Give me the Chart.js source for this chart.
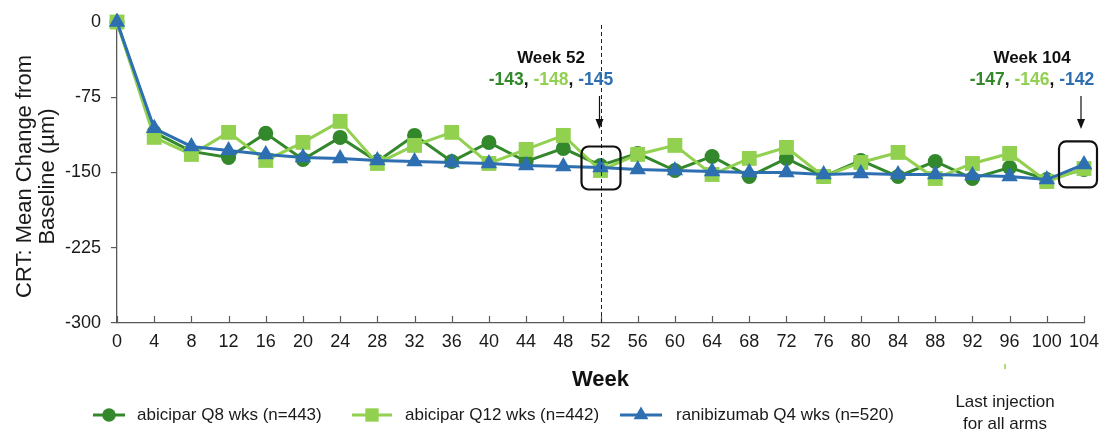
<!DOCTYPE html>
<html>
<head>
<meta charset="utf-8">
<script src="https://cdn.jsdelivr.net/npm/chart.js@4.4.1/dist/chart.umd.min.js"></script>
<style>
  html, body { margin: 0; padding: 0; background: #ffffff; }
  #wrap { width: 1100px; height: 430px; position: relative; }
</style>
</head>
<body>
<div id="wrap"><canvas id="c" width="1100" height="430"></canvas></div>
<script>
// ---- data ----
const weeks = [0, 4, 8, 12, 16, 20, 24, 28, 32, 36, 40, 44, 48, 52, 56, 60, 64, 68, 72, 76, 80, 84, 88, 92, 96, 100, 104];
const abiciparQ8 = [0, -110, -129, -135, -111, -137, -115, -139, -113, -139, -120, -139, -126, -143, -131, -148, -134, -154, -136, -154, -138, -154, -139, -156, -145, -157, -147];
const abiciparQ12 = [0, -115, -132, -110, -138, -120, -99, -141, -123, -110, -141, -127, -113, -148, -132, -123, -152, -136, -125, -154, -140, -130, -156, -141, -131, -159, -146];
const ranibizumabQ4 = [0, -106, -124, -128, -132, -135, -136, -138, -139, -140, -141, -143, -144, -145, -147, -148, -149, -150, -150, -152, -151, -152, -152, -153, -154, -157, -142];
const seriesNames = ['abicipar Q8 wks (n=443)', 'abicipar Q12 wks (n=442)', 'ranibizumab Q4 wks (n=520)'];
const yTicks = [0, -75, -150, -225, -300];
const xTickStep = 4;
const highlightWeeks = [52, 104];
const highlightLabels = ['Week 52', 'Week 104'];
const highlightValues = [[-143, -148, -145], [-147, -146, -142]];

const C_DARK = '#33882b';
const C_LIGHT = '#92d050';
const C_BLUE = '#2e6fb2';
const colors = [C_DARK, C_LIGHT, C_BLUE];
const styles = ['circle', 'rect', 'triangle'];
const radii = [7.5, 10.5, 9.5];
const FONT = '"Liberation Sans", Arial, sans-serif';

function pts(arr) { return weeks.map((w, i) => ({ x: w, y: arr[i] })); }
const seriesData = [abiciparQ8, abiciparQ12, ranibizumabQ4];

const datasets = seriesData.map((arr, i) => ({
  label: seriesNames[i],
  data: pts(arr),
  borderColor: colors[i],
  backgroundColor: colors[i],
  pointBackgroundColor: colors[i],
  pointBorderColor: colors[i],
  pointStyle: styles[i],
  pointRadius: radii[i],
  pointBorderWidth: 0,
  borderWidth: 3,
  tension: 0,
  clip: false,
  order: 3 - i
}));

const annot = {
  id: 'annot',
  afterDraw(chart) {
    const ctx = chart.ctx;
    const xs = chart.scales.x, ys = chart.scales.y;
    const area = chart.chartArea;
    ctx.save();
    // x tick marks (inside, upwards)
    ctx.strokeStyle = '#595959';
    ctx.lineWidth = 1.2;
    for (let w = 0; w <= 104; w += xTickStep) {
      const px = Math.round(xs.getPixelForValue(w)) + 0.5;
      ctx.beginPath();
      ctx.moveTo(px, area.bottom);
      ctx.lineTo(px, area.bottom - 7);
      ctx.stroke();
    }
    // dashed vertical line at week 52
    const x52 = Math.round(xs.getPixelForValue(52)) + 0.5;
    ctx.strokeStyle = '#222';
    ctx.lineWidth = 1;
    ctx.setLineDash([4, 3]);
    ctx.beginPath();
    ctx.moveTo(x52, area.top + 3);
    ctx.lineTo(x52, area.bottom);
    ctx.stroke();
    ctx.setLineDash([]);

    // highlight boxes, arrows, texts
    highlightWeeks.forEach((w, k) => {
      const px = xs.getPixelForValue(w);
      const py = ys.getPixelForValue(ranibizumabQ4[weeks.indexOf(w)]);
      let bx, bw, by, bh;
      if (k === 0) { bx = px - 19; bw = 39; by = py - 21; bh = 43; }
      else { bx = px - 25; bw = 38; by = py - 23; bh = 46; }
      ctx.strokeStyle = '#111';
      ctx.lineWidth = 2.2;
      ctx.beginPath();
      ctx.roundRect(bx, by, bw, bh, 7);
      ctx.stroke();
      // arrow
      const ax = k === 0 ? px - 1 : px - 3;
      ctx.strokeStyle = '#111';
      ctx.fillStyle = '#111';
      ctx.lineWidth = 1.2;
      ctx.beginPath();
      ctx.moveTo(ax, 96);
      ctx.lineTo(ax, 122);
      ctx.stroke();
      ctx.beginPath();
      ctx.moveTo(ax - 4, 119);
      ctx.lineTo(ax + 4, 119);
      ctx.lineTo(ax, 129);
      ctx.closePath();
      ctx.fill();
      // texts
      const cx = k === 0 ? 551 : 1032;
      ctx.font = 'bold 17px ' + FONT;
      ctx.textAlign = 'center';
      ctx.textBaseline = 'middle';
      ctx.fillStyle = '#111';
      ctx.fillText(highlightLabels[k], cx, 58);
      const parts = [];
      highlightValues[k].forEach((v, j) => {
        parts.push({ t: String(v), c: colors[j] });
        if (j < 2) parts.push({ t: ', ', c: '#111' });
      });
      ctx.font = 'bold 17.5px ' + FONT;
      const tw = parts.reduce((s, p) => s + ctx.measureText(p.t).width, 0);
      let tx = cx - tw / 2;
      ctx.textAlign = 'left';
      parts.forEach(p => {
        ctx.fillStyle = p.c;
        ctx.fillText(p.t, tx, 80);
        tx += ctx.measureText(p.t).width;
      });
    });

    // y axis title (two lines, rotated)
    ctx.save();
    ctx.translate(0, (area.top + area.bottom) / 2 + 4);
    ctx.rotate(-Math.PI / 2);
    ctx.font = '22px ' + FONT;
    ctx.fillStyle = '#1a1a1a';
    ctx.textAlign = 'center';
    ctx.textBaseline = 'middle';
    ctx.fillText('CRT: Mean Change from', 0, 25);
    ctx.fillText('Baseline (\u00b5m)', 0, 48);
    ctx.restore();

    // x axis title
    ctx.font = 'bold 22px ' + FONT;
    ctx.fillStyle = '#111';
    ctx.textAlign = 'center';
    ctx.textBaseline = 'middle';
    ctx.fillText('Week', xs.getPixelForValue(52), 380);

    // last injection note
    ctx.font = '17px ' + FONT;
    ctx.fillStyle = '#1a1a1a';
    ctx.fillText('Last injection', 1005, 402);
    ctx.fillText('for all arms', 1005, 424);
    ctx.strokeStyle = C_LIGHT;
    ctx.lineWidth = 1.5;
    ctx.beginPath();
    ctx.moveTo(1005, 364);
    ctx.lineTo(1005, 369);
    ctx.stroke();

    // legend
    const legendY = 415;
    const items = [
      { lx: 93, len: 32, tx: 137 },
      { lx: 352, len: 40, tx: 405 },
      { lx: 620, len: 42, tx: 676 }
    ];
    ctx.font = '17px ' + FONT;
    ctx.textAlign = 'left';
    ctx.textBaseline = 'middle';
    items.forEach((it, i) => {
      ctx.strokeStyle = colors[i];
      ctx.lineWidth = 3;
      ctx.beginPath();
      ctx.moveTo(it.lx, legendY);
      ctx.lineTo(it.lx + it.len, legendY);
      ctx.stroke();
      ctx.fillStyle = colors[i];
      Chart.helpers.drawPoint(ctx, { pointStyle: styles[i], radius: radii[i] * 0.9, rotation: 0, borderWidth: 0 }, it.lx + it.len / 2, legendY);
      ctx.fillStyle = '#1a1a1a';
      ctx.fillText(seriesNames[i], it.tx, legendY);
    });
    ctx.restore();
  }
};

new Chart(document.getElementById('c'), {
  type: 'line',
  data: { datasets },
  plugins: [annot],
  options: {
    responsive: false,
    animation: false,
    devicePixelRatio: 1,
    layout: { padding: { left: 0, right: 16, top: 22, bottom: 0 } },
    plugins: { legend: { display: false }, tooltip: { enabled: false } },
    scales: {
      x: {
        type: 'linear',
        min: 0, max: 104,
        afterFit(s) { s.height = 107; s.paddingLeft = 0; s.paddingRight = 0; },
        afterBuildTicks(s) { s.ticks = weeks.map(w => ({ value: w })); },
        ticks: { stepSize: xTickStep, color: '#1a1a1a', font: { family: FONT, size: 18 }, padding: 8, maxRotation: 0, autoSkip: false },
        grid: { display: true, drawOnChartArea: false, drawTicks: false },
        border: { display: true, color: '#595959', width: 1.3 }
      },
      y: {
        min: -300, max: 0,
        afterFit(s) { s.width = 117; s.paddingTop = 0; s.paddingBottom = 0; },
        afterBuildTicks(s) { s.ticks = yTicks.map(v => ({ value: v })); },
        ticks: { color: '#1a1a1a', font: { family: FONT, size: 18 }, padding: 10 },
        grid: { display: true, drawOnChartArea: false, drawTicks: true, tickLength: 6, color: '#595959', lineWidth: 1.2 },
        border: { display: true, color: '#595959', width: 1.3 }
      }
    }
  }
});
</script>
</body>
</html>
